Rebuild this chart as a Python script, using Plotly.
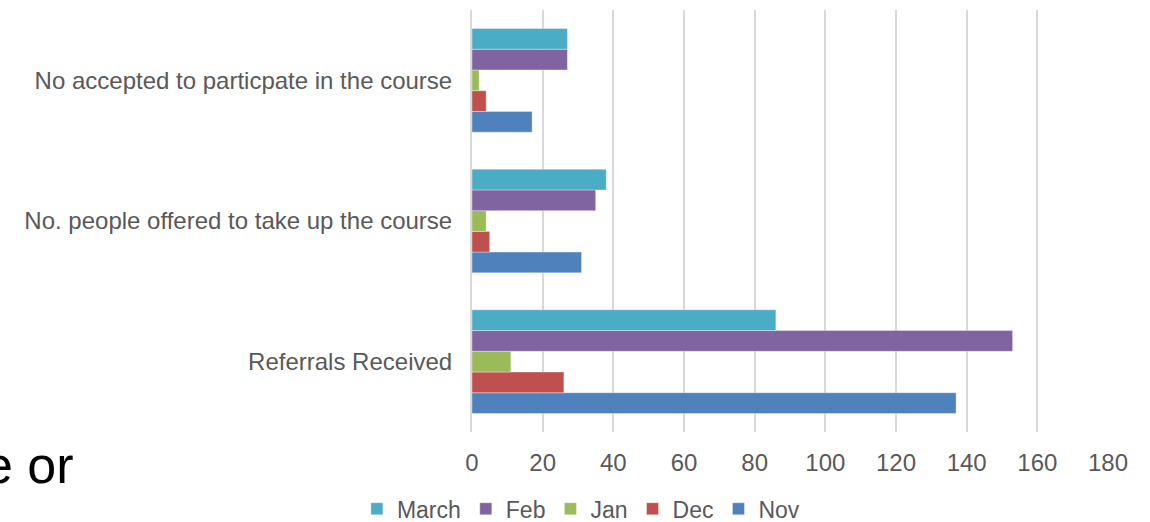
import plotly.graph_objects as go

categories = ["Referrals Received",
              "No. people offered to take up the course",
              "No accepted to particpate in the course"]
series_names = ["Nov", "Dec", "Jan", "Feb", "March"]
nov = [137, 31, 17]
dec = [26, 5, 4]
jan = [11, 4, 2]
feb = [153, 35, 27]
march = [86, 38, 27]
x_ticks = [0, 20, 40, 60, 80, 100, 120, 140, 160, 180]

colors = {"Nov": "#4F81BD", "Dec": "#C0504D", "Jan": "#9BBB59",
          "Feb": "#8064A2", "March": "#4BACC6"}
values = {"Nov": nov, "Dec": dec, "Jan": jan, "Feb": feb, "March": march}

FONT = "Liberation Sans, Arial, sans-serif"

fig = go.Figure()
for name in series_names:
    fig.add_trace(go.Bar(
        y=categories, x=values[name], name=name, orientation="h",
        marker=dict(color=colors[name],
                    line=dict(color="rgba(255,255,255,0.35)", width=1)),
    ))

fig.update_layout(
    barmode="group", bargap=0.263, bargroupgap=0,
    width=1150, height=522,
    margin=dict(l=472, r=42, t=10, b=90, autoexpand=False),
    plot_bgcolor="white", paper_bgcolor="white",
    font=dict(family=FONT, size=24, color="#595959"),
    showlegend=True,
    legend=dict(orientation="h", traceorder="reversed",
                xref="paper", yref="paper",
                x=-0.181, xanchor="left", y=-0.182, yanchor="middle",
                font=dict(size=23, color="#595959"),
                itemwidth=30, tracegroupgap=0,
                bgcolor="rgba(0,0,0,0)"),
    xaxis=dict(range=[0, 180], tickvals=x_ticks, showgrid=True,
               gridcolor="#D9D9D9", gridwidth=2, zeroline=False,
               showline=False, ticks="", ticklabelstandoff=14,
               automargin=False,
               tickfont=dict(size=24, color="#595959"), fixedrange=True),
    yaxis=dict(showgrid=False, zeroline=False, showline=True,
               linecolor="#D9D9D9", linewidth=2, ticks="",
               ticklabelstandoff=13, automargin=False,
               tickfont=dict(size=24, color="#595959"), fixedrange=True),
    annotations=[dict(text="e or", xref="paper", yref="paper",
                      x=-0.6226, y=-0.079, xanchor="right", yanchor="middle",
                      showarrow=False,
                      font=dict(family=FONT, size=52, color="#000000"))],
)

fig.write_html("out.html", config={"displayModeBar": False},
               post_script="document.body.style.margin='0';")
